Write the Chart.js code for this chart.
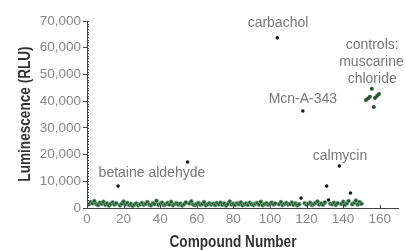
<!DOCTYPE html>
<html><head><meta charset="utf-8">
<script src="https://cdn.jsdelivr.net/npm/chart.js@4/dist/chart.umd.min.js"></script>
<style>html,body{margin:0;padding:0;background:#fff}#wrap{width:405px;height:250px}</style>
</head><body><div id="wrap"><canvas id="c" width="405" height="250"></canvas></div>
<script>
// Screening compounds 1..150 (null = compound plotted as a highlighted hit)
const baselineValues = [
1400,2200,1800,2600,1500,1100,2000,1600,2300,1200,
1700,900,1500,2100,1300,1800,null,1000,1600,2400,
1400,1900,1100,1500,800,1300,1700,1000,1400,1900,
1200,1600,2200,1300,1000,1800,1500,2700,1200,1600,
2000,1100,1400,1900,1300,2300,1000,1500,1800,1200,
1600,900,1400,2100,null,1700,2500,1300,1100,1600,
1900,1200,1500,2200,1000,1400,1800,1300,1600,1100,
1900,1400,2000,1200,1700,900,1500,2400,1300,1600,
1100,1800,1400,2100,1000,1500,1700,1200,2000,1400,
1100,1600,1900,1300,2300,1000,1500,1800,1200,1600,
2000,1300,1700,null,1400,2200,1100,1600,1900,1300,
1500,2100,1200,1700,1000,1400,null,null,1800,1300,
1600,2000,1100,1500,1900,2400,1300,1700,1200,2100,
null,null,1600,1400,2000,1100,1800,null,1500,2300,
1200,1700,2600,null,1400,1900,2800,1300,2200,1600
];
// Hits above baseline
const hitNumbers = [17, 55, 104, 117, 118, 131, 132, 138, 144];
const hitValues  = [8200, 17200, 63700, 3700, 36300, 8200, 3000, 15700, 5600];
// Positive controls (muscarine chloride)
const controlNumbers = [152.5, 153.6, 154.6, 155.7, 156.8, 157.4, 158.5, 159.6];
const controlValues  = [40400, 41000, 41600, 44600, 37800, 41200, 41900, 42700];
// Annotation texts with anchor (data units)
const noteTexts = ['carbachol','Mcn-A-343','calmycin','betaine aldehyde','controls:','muscarine','chloride'];
const noteX = [104.4, 118, 138.3, 35.5, 155.9, 155.5, 155.9];
const noteY = [69300, 40800, 19500, 13100, 61000, 54700, 48300];
// Axis ticks
const xTicks = [0,20,40,60,80,100,120,140,160];
const yTicks = [0,10000,20000,30000,40000,50000,60000,70000];

const baseline = baselineValues.map((v,i)=>({x:i+1,y:v})).filter(p=>p.y!==null);
const hits = hitNumbers.map((x,i)=>({x:x,y:hitValues[i]}));
const controls = controlNumbers.map((x,i)=>({x:x,y:controlValues[i]}));

const extras = {
  id:'extras',
  afterDraw(chart){
    const ctx = chart.ctx, xs = chart.scales.x, ys = chart.scales.y, ca = chart.chartArea;
    ctx.save();
    // minor ticks on y axis
    ctx.strokeStyle = '#444'; ctx.lineWidth = 1;
    for(let v=0; v<=70000; v+=1000){
      const y = Math.round(ys.getPixelForValue(v))+0.5;
      ctx.beginPath(); ctx.moveTo(ca.left, y); ctx.lineTo(ca.left+2, y); ctx.stroke();
    }
    // inner x ticks
    xTicks.forEach(v=>{
      const x = Math.round(xs.getPixelForValue(v))+0.5;
      ctx.beginPath(); ctx.moveTo(x, ca.bottom); ctx.lineTo(x, ca.bottom-3); ctx.stroke();
    });
    // annotations
    ctx.fillStyle = '#777';
    ctx.font = '14px "Liberation Sans", Arial, sans-serif';
    ctx.textAlign = 'center'; ctx.textBaseline = 'middle';
    noteTexts.forEach((t,i)=>{
      ctx.fillText(t, xs.getPixelForValue(noteX[i]), ys.getPixelForValue(noteY[i]));
    });
    // axis titles (condensed bold)
    ctx.fillStyle = '#333';
    ctx.font = 'bold 17px "Liberation Sans", Arial, sans-serif';
    ctx.save();
    ctx.translate(233, 242); ctx.scale(0.8, 1);
    ctx.fillText('Compound Number', 0, 0);
    ctx.restore();
    ctx.save();
    ctx.translate(25, 114); ctx.rotate(-Math.PI/2); ctx.scale(0.8, 1);
    ctx.fillText('Luminescence (RLU)', 0, 0);
    ctx.restore();
    ctx.restore();
  }
};

new Chart(document.getElementById('c'), {
  type: 'scatter',
  data: { datasets: [
    { data: baseline, backgroundColor:'#24572f', borderColor:'rgba(120,175,135,0.7)', borderWidth:1, pointRadius:2 },
    { data: controls, backgroundColor:'#24572f', borderWidth:0, pointRadius:2 },
    { data: hits, backgroundColor:'#1a1a1a', borderWidth:0, pointRadius:1.8 }
  ]},
  options: {
    responsive:false, animation:false, devicePixelRatio:1,
    layout:{ padding:{ top:21, right:7, left:0, bottom:0 } },
    plugins:{ legend:{display:false}, tooltip:{enabled:false} },
    scales:{
      x:{ type:'linear', min:0, max:170,
        afterBuildTicks(s){ s.ticks = xTicks.map(v=>({value:v})); },
        afterFit(s){ s.height = 42; },
        grid:{ drawOnChartArea:false, drawTicks:false },
        border:{ color:'#444', width:1 },
        ticks:{ color:'#888', padding:3, font:{ family:'"Liberation Sans", Arial, sans-serif', size:13.5 }, maxRotation:0 }
      },
      y:{ type:'linear', min:0, max:70000,
        afterBuildTicks(s){ s.ticks = yTicks.map(v=>({value:v})); },
        afterFit(s){ s.width = 87; },
        grid:{ drawOnChartArea:false, drawTicks:true, tickLength:4, color:'#444' },
        border:{ color:'#444', width:1 },
        ticks:{ color:'#888', padding:2, font:{ family:'"Liberation Sans", Arial, sans-serif', size:13.5 },
          callback:(v)=>v.toLocaleString('en-US') }
      }
    }
  },
  plugins:[extras]
});
</script></body></html>
